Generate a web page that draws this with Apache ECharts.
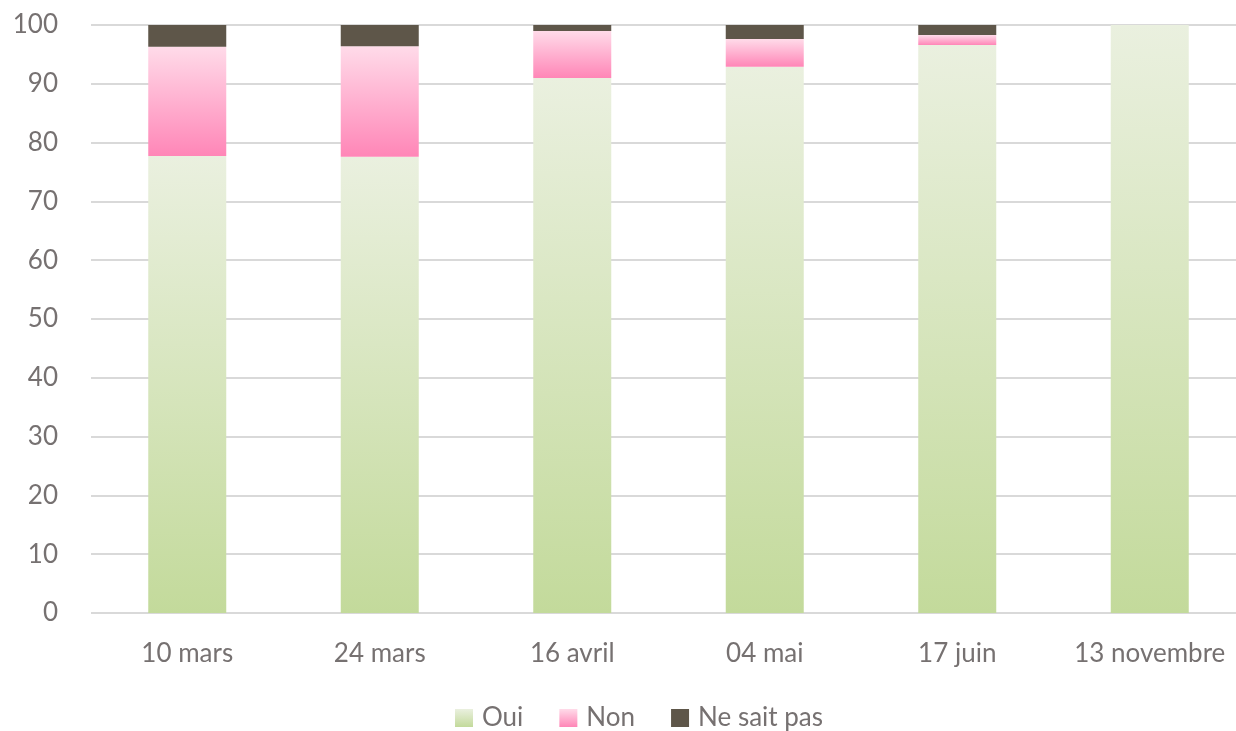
<!DOCTYPE html>
<html><head><meta charset="utf-8">
<script src="https://cdn.jsdelivr.net/npm/echarts@6/dist/echarts.min.js"></script>
<style>html,body{margin:0;padding:0;background:#fff;overflow:hidden}#c{width:1246px;height:731px}</style>
</head><body><div id="c"></div>
<script>
const categories = ['10 mars', '24 mars', '16 avril', '04 mai', '17 juin', '13 novembre'];
const oui = [77.7, 77.6, 91.0, 92.9, 96.6, 100];
const non = [18.6, 18.8, 8.0, 4.7, 1.7, 0];
const nsp = [3.7, 3.6, 1.0, 2.5, 1.7, 0];
const yTicks = [0, 10, 20, 30, 40, 50, 60, 70, 80, 90, 100];

const grad = (a, b) => new echarts.graphic.LinearGradient(0, 0, 0, 1, [{offset: 0, color: a}, {offset: 1, color: b}]);
const FONT = 'Lato';
const chart = echarts.init(document.getElementById('c'));
chart.setOption({
  animation: false,
  textStyle: {fontFamily: FONT},
  grid: {left: 91, right: 0, top: 25, height: 588},
  xAxis: {
    type: 'category', data: categories,
    axisLine: {show: false}, axisTick: {show: false},
    axisLabel: {color: '#767171', fontSize: 26, fontFamily: FONT, margin: 28, interval: 0}
  },
  yAxis: {
    type: 'value', min: yTicks[0], max: yTicks[yTicks.length - 1], interval: 10,
    axisLine: {show: false}, axisTick: {show: false},
    splitLine: {lineStyle: {color: '#d9d9d9', width: 2}},
    axisLabel: {color: '#767171', fontSize: 26, fontFamily: FONT, margin: 33}
  },
  legend: {
    top: 700, left: 450, itemWidth: 18, itemHeight: 18, itemGap: 36, icon: 'rect',
    textStyle: {color: '#767171', fontSize: 26, fontFamily: FONT, padding: [0, 0, 0, 4]},
    data: ['Oui', 'Non', 'Ne sait pas']
  },
  series: [
    {name: 'Oui', type: 'bar', stack: 't', barWidth: 78, data: oui,
      itemStyle: {color: grad('#eaf0df', '#c3da9b')}},
    {name: 'Non', type: 'bar', stack: 't', barWidth: 78, data: non,
      itemStyle: {color: grad('#ffdbe9', '#ff86b7')}},
    {name: 'Ne sait pas', type: 'bar', stack: 't', barWidth: 78, data: nsp,
      itemStyle: {color: '#5e5649'}}
  ]
});
</script></body></html>
